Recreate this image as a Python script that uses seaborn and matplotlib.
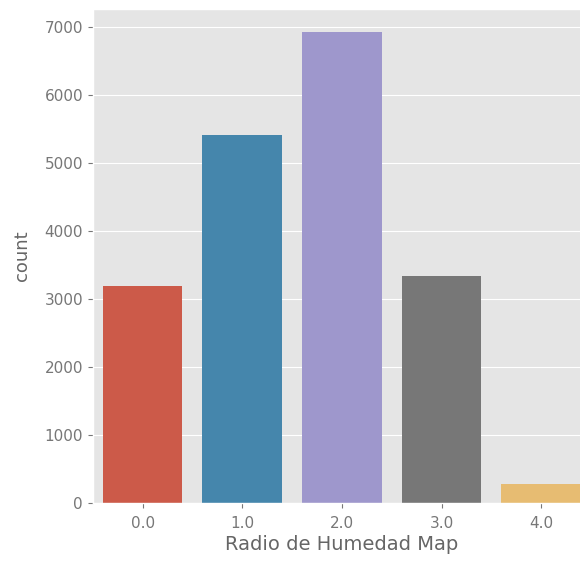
import numpy as np
import pandas as pd
import seaborn as sns
from matplotlib import pyplot as plt

# Conteos por categoría de Radio de Humedad Map
categorias = ['0.0', '1.0', '2.0', '3.0', '4.0']
conteos = [3190, 5410, 6915, 3335, 280]
colores = ['#E24A33', '#348ABD', '#988ED5', '#777777', '#FBC15E']

df = pd.DataFrame({'Radio de Humedad Map': categorias, 'count': conteos})

plt.style.use('ggplot')
fig = plt.figure(figsize=(5.8, 5.61), dpi=100)
ax = fig.add_axes([0.160, 0.104, 0.859, 0.88])

sns.barplot(data=df, x='Radio de Humedad Map', y='count',
            hue='Radio de Humedad Map', palette=colores, legend=False,
            saturation=0.75, ax=ax)

ax.set_yticks(np.arange(0, 7001, 1000))
ax.set_xlabel('Radio de Humedad Map', fontsize=14, color='#666666', labelpad=3)
ax.set_ylabel('count', fontsize=13, color='#666666', labelpad=10)
ax.tick_params(labelsize=11, colors='#777777')
ax.tick_params(axis='x', pad=6)

plt.savefig('out.png', dpi=100)
